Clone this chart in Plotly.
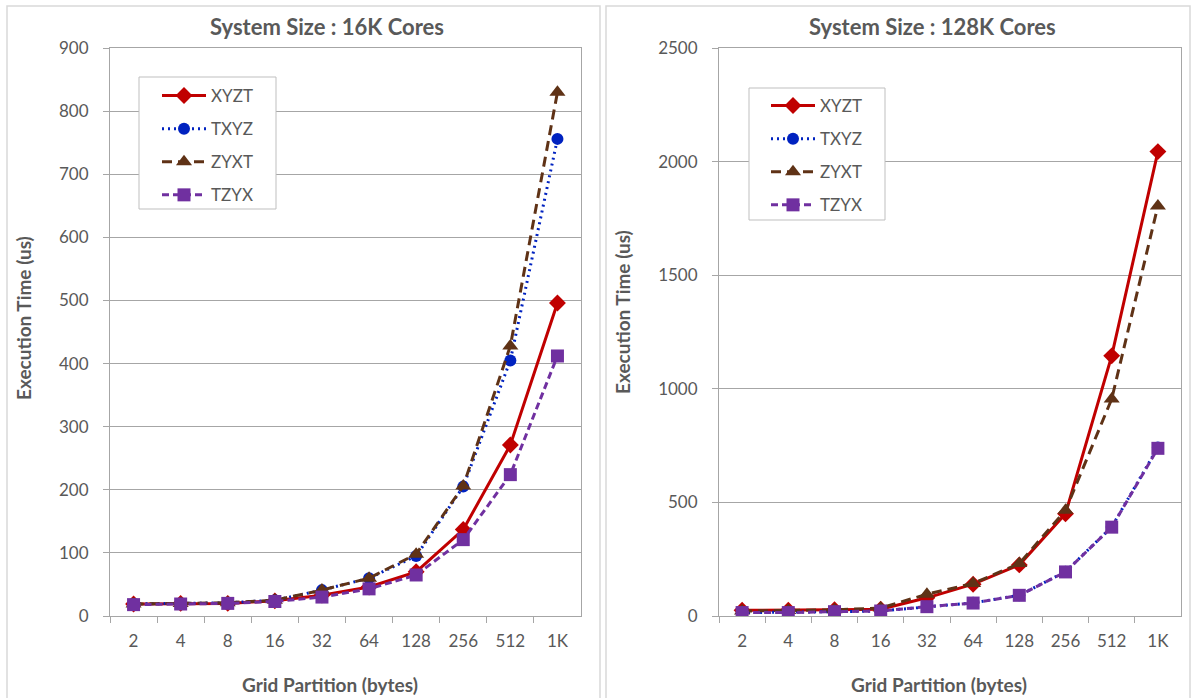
import plotly.graph_objects as go

categories = ["2", "4", "8", "16", "32", "64", "128", "256", "512", "1K"]

# System Size : 16K Cores
xyzt_16k = [19, 20, 20, 24, 33, 46, 70, 137, 271, 496]
txyz_16k = [19, 20, 21, 25, 41, 60, 95, 205, 405, 756]
zyxt_16k = [19, 20, 21, 25, 41, 60, 98, 206, 428, 830]
tzyx_16k = [18, 19, 20, 23, 30, 43, 65, 121, 224, 412]

# System Size : 128K Cores
xyzt_128k = [25, 25, 28, 30, 80, 140, 225, 450, 1145, 2044]
txyz_128k = [15, 16, 19, 22, 41, 58, 91, 195, 392, 742]
zyxt_128k = [22, 24, 27, 35, 96, 143, 231, 465, 955, 1805]
tzyx_128k = [15, 15, 19, 22, 41, 57, 91, 194, 391, 738]

series_names = ["XYZT", "TXYZ", "ZYXT", "TZYX"]
titles = ["System Size : 16K Cores", "System Size : 128K Cores"]
x_title = "Grid Partition (bytes)"
y_title = "Execution Time (us)"

W, H = 1192, 698
FONT = "Lato"
TXT = "#595959"
GRID = "#a6a6a6"

styles = {
    "XYZT": dict(color="#c00000", dash="solid", width=3, symbol="diamond", size=13),
    "TXYZ": dict(color="#0022c0", dash="2px,4px", width=3, symbol="circle", size=12),
    "ZYXT": dict(color="#5f3216", dash="10px,6px", width=3, symbol="triangle-up", size=14),
    "TZYX": dict(color="#7030a0", dash="7px,4px", width=3, symbol="square", size=13),
}

fig = go.Figure()

panels = [
    ("x", "y", "legend", [xyzt_16k, txyz_16k, zyxt_16k, tzyx_16k]),
    ("x2", "y2", "legend2", [xyzt_128k, txyz_128k, zyxt_128k, tzyx_128k]),
]
for xa, ya, lg, data in panels:
    for name, vals in zip(series_names, data):
        s = styles[name]
        fig.add_trace(go.Scatter(
            x=categories, y=vals, name=name, xaxis=xa, yaxis=ya,
            legend=lg, legendgroup=lg + name,
            mode="lines+markers",
            line=dict(color=s["color"], dash=s["dash"], width=s["width"]),
            marker=dict(symbol=s["symbol"], size=s["size"], color=s["color"]),
        ))

def px_x(p):
    return p / W

def px_y(p):
    return 1 - p / H

x_dom_left = [px_x(110), px_x(581)]
x_dom_right = [px_x(719), px_x(1181)]
y_dom = [px_y(616), px_y(48)]

xcommon = dict(
    type="category", range=[-0.5, len(categories) - 0.5],
    showgrid=False, showline=True, linecolor=GRID, linewidth=1,
    mirror=True, ticks="outside", ticklen=6, tickcolor=GRID, tickson="boundaries",
    tickfont=dict(family=FONT, size=17, color=TXT), ticklabelstandoff=10,
    zeroline=False, fixedrange=True, automargin=False,
)
ycommon = dict(
    showgrid=True, gridcolor=GRID, gridwidth=1, showline=True, linecolor=GRID,
    linewidth=1, mirror=True, ticks="outside", ticklen=6, tickcolor=GRID,
    tickfont=dict(family=FONT, size=17, color=TXT), ticklabelstandoff=11,
    zeroline=False, fixedrange=True, automargin=False,
)

legend_common = dict(
    xanchor="left", yanchor="top", bgcolor="rgba(0,0,0,0)", borderwidth=0,
    font=dict(family=FONT, size=17, color=TXT),
    tracegroupgap=8, itemwidth=44, itemclick=False, itemdoubleclick=False,
)

fig.update_layout(
    width=W, height=H, autosize=False,
    margin=dict(l=0, r=0, t=0, b=0, pad=0, autoexpand=False),
    paper_bgcolor="white", plot_bgcolor="white",
    xaxis=dict(domain=x_dom_left, anchor="y", **xcommon),
    yaxis=dict(domain=y_dom, anchor="x", range=[0, 900], dtick=100, **ycommon),
    xaxis2=dict(domain=x_dom_right, anchor="y2", **xcommon),
    yaxis2=dict(domain=y_dom, anchor="x2", range=[0, 2500], dtick=500, **ycommon),
    legend=dict(x=px_x(157), y=px_y(78), **legend_common),
    legend2=dict(x=px_x(766), y=px_y(88), **legend_common),
    showlegend=True,
)

# panel frames
for x0, x1 in [(7, 600), (606, 1190)]:
    fig.add_shape(type="rect", xref="paper", yref="paper",
                  x0=px_x(x0), x1=px_x(x1), y0=-0.05, y1=px_y(6),
                  line=dict(color="#d9d9d9", width=1.5), layer="below")

# legend boxes
for x0, x1, y0, y1 in [(139, 276, 77, 209), (749, 885, 88, 220)]:
    fig.add_shape(type="rect", xref="paper", yref="paper",
                  x0=px_x(x0), x1=px_x(x1), y0=px_y(y1), y1=px_y(y0),
                  line=dict(color="#bfbfbf", width=1), fillcolor="white", layer="above")

annots = [
    dict(text=titles[0], x=px_x(327), y=px_y(26), font_size=22),
    dict(text=titles[1], x=px_x(932), y=px_y(26), font_size=22),
    dict(text=x_title, x=px_x(330), y=px_y(684), font_size=19),
    dict(text=x_title, x=px_x(939), y=px_y(684), font_size=19),
    dict(text=y_title, x=px_x(23), y=px_y(318), font_size=19, angle=-90),
    dict(text=y_title, x=px_x(622), y=px_y(312), font_size=19, angle=-90),
]
for a in annots:
    fig.add_annotation(
        text="<b>" + a["text"] + "</b>", x=a["x"], y=a["y"], xref="paper", yref="paper",
        xanchor="center", yanchor="middle", showarrow=False,
        textangle=a.get("angle", 0),
        font=dict(family=FONT, size=a["font_size"], color=TXT),
    )

fig.write_html("out.html")
